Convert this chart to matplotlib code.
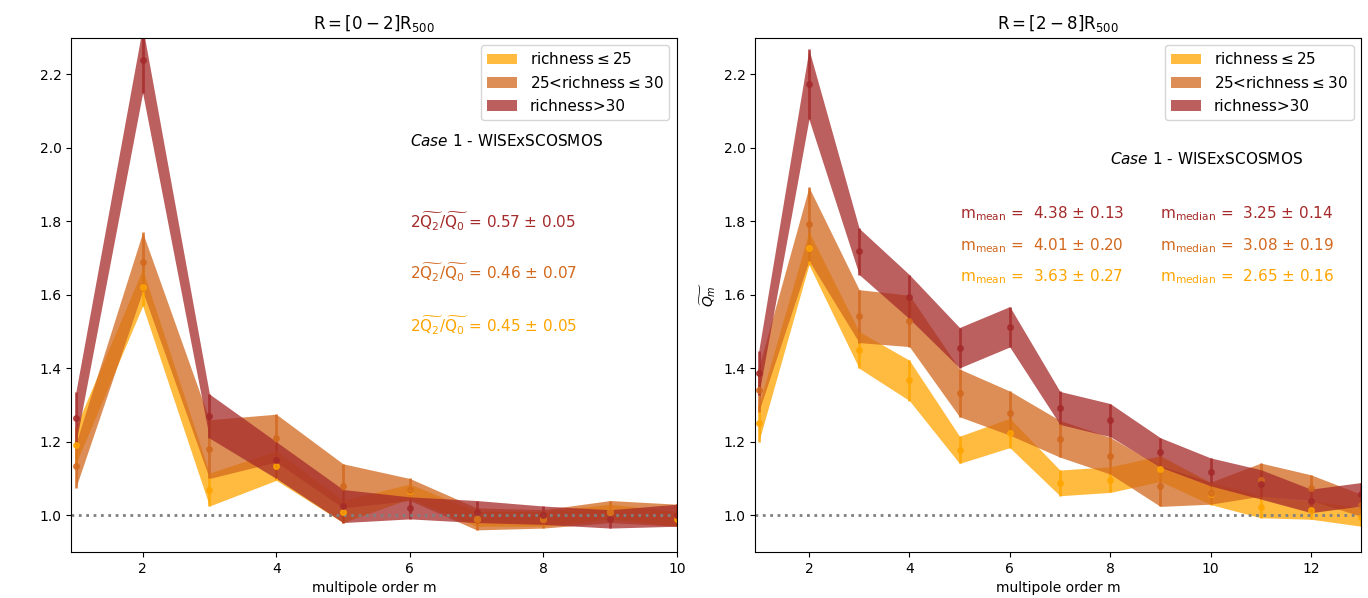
import matplotlib.pyplot as plt
import numpy as np

# left panel: R = [0-2] R500, m = 1..10
m_in = np.arange(1, 11)
low_in = [1.19, 1.62, 1.07, 1.135, 1.01, 1.065, 0.99, 0.99, 1.01, 0.99]        # richness <= 25
low_in_err = [0.05, 0.05, 0.045, 0.04, 0.03, 0.02, 0.02, 0.02, 0.02, 0.02]
mid_in = [1.135, 1.69, 1.18, 1.21, 1.08, 1.07, 0.99, 0.99, 1.01, 1.0]          # 25 < richness <= 30
mid_in_err = [0.06, 0.08, 0.08, 0.065, 0.06, 0.03, 0.03, 0.025, 0.03, 0.03]
high_in = [1.265, 2.24, 1.27, 1.15, 1.025, 1.02, 1.01, 1.0, 0.99, 1.0]        # richness > 30
high_in_err = [0.07, 0.09, 0.06, 0.05, 0.045, 0.03, 0.03, 0.025, 0.025, 0.03]

# right panel: R = [2-8] R500, m = 1..13
m_out = np.arange(1, 14)
low_out = [1.25, 1.727, 1.45, 1.367, 1.178, 1.224, 1.088, 1.097, 1.127, 1.059, 1.023, 1.014, 0.995]
low_out_err = [0.05, 0.045, 0.05, 0.055, 0.037, 0.04, 0.035, 0.035, 0.035, 0.03, 0.03, 0.025, 0.025]
mid_out = [1.342, 1.793, 1.542, 1.529, 1.333, 1.278, 1.208, 1.162, 1.079, 1.06, 1.097, 1.075, 1.027]
mid_out_err = [0.06, 0.1, 0.072, 0.07, 0.065, 0.06, 0.05, 0.05, 0.055, 0.03, 0.045, 0.035, 0.03]
high_out = [1.388, 2.173, 1.718, 1.595, 1.456, 1.513, 1.292, 1.259, 1.171, 1.118, 1.084, 1.039, 1.057]
high_out_err = [0.06, 0.095, 0.063, 0.06, 0.055, 0.055, 0.045, 0.045, 0.04, 0.038, 0.04, 0.032, 0.032]

labels = [r'richness$\leq$25', r'25<richness$\leq$30', 'richness>30']
colors = ['orange', 'chocolate', 'brown']

ratio_txt = ['0.45 ± 0.05', '0.46 ± 0.07', '0.57 ± 0.05']
mean_txt = ['3.63 ± 0.27', '4.01 ± 0.20', '4.38 ± 0.13']
median_txt = ['2.65 ± 0.16', '3.08 ± 0.19', '3.25 ± 0.14']

fig, axes = plt.subplots(1, 2, figsize=(13.68, 5.98), dpi=100)
plt.subplots_adjust(left=0.052, right=0.995, bottom=0.077, top=0.937, wspace=0.129)


def draw(ax, m, series):
    for (y, e), c, lab in zip(series, colors, labels):
        y = np.array(y)
        e = np.array(e)
        ax.fill_between(m, y - e, y + e, color=c, alpha=0.75, lw=0, label=lab)
        ax.errorbar(m, y, yerr=e, fmt='o', color=c, ms=4, elinewidth=2, alpha=0.8)
    ax.axhline(1.0, color='grey', ls=':', lw=2)
    ax.set_ylim(0.9, 2.3)
    ax.set_xlabel('multipole order m')
    ax.legend(loc='upper right', fontsize=11)


draw(axes[0], m_in, [(low_in, low_in_err), (mid_in, mid_in_err), (high_in, high_in_err)])
draw(axes[1], m_out, [(low_out, low_out_err), (mid_out, mid_out_err), (high_out, high_out_err)])

ax = axes[0]
ax.set_xlim(0.93, 10)
ax.set_title(r'$\rm R=[0-2]R_{500}$')
ax.text(6.0, 2.02, r'$Case$ 1 - WISExSCOSMOS', fontsize=11, va='center')
for i, yy in enumerate([1.517, 1.66, 1.80]):
    ax.text(6.0, yy, r'$2\widetilde{\rm Q_2}/\widetilde{\rm Q_0}$ = ' + ratio_txt[i],
            color=colors[i], fontsize=11, va='center')

ax = axes[1]
ax.set_xlim(0.93, 13)
ax.set_title(r'$\rm R=[2-8]R_{500}$')
ax.set_ylabel(r'$\widetilde{Q_m}$')
ax.text(8.0, 1.97, r'$Case$ 1 - WISExSCOSMOS', fontsize=11, va='center')
for i, yy in enumerate([1.65, 1.735, 1.82]):
    ax.text(5.0, yy, r'$\rm m_{mean}$ =  ' + mean_txt[i], color=colors[i], fontsize=11, va='center')
    ax.text(9.0, yy, r'$\rm m_{median}$ =  ' + median_txt[i], color=colors[i], fontsize=11, va='center')

plt.savefig('out.png')
